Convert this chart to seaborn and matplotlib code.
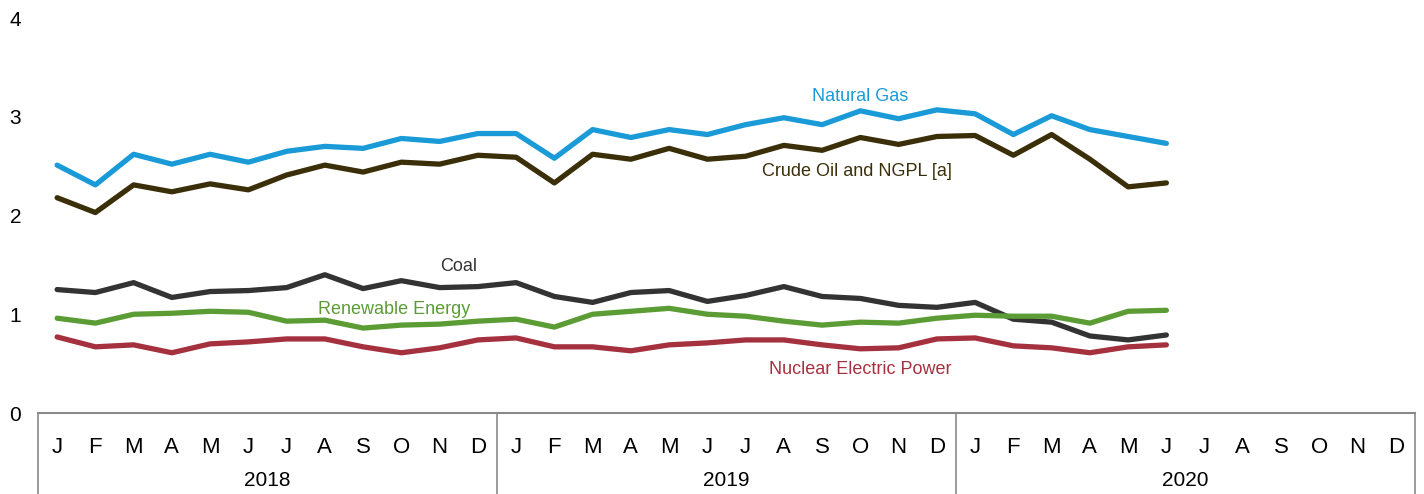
import pandas as pd
import matplotlib.pyplot as plt
import matplotlib.transforms as mtransforms
import seaborn as sns

# Datos mensuales (ene 2018 - jun 2020)
meses = ["J", "F", "M", "A", "M", "J", "J", "A", "S", "O", "N", "D"]
anios = ["2018", "2019", "2020"]

natural_gas = [2.51, 2.31, 2.62, 2.52, 2.62, 2.54, 2.65, 2.70, 2.68, 2.78, 2.75, 2.83,
               2.83, 2.58, 2.87, 2.79, 2.87, 2.82, 2.92, 2.99, 2.92, 3.06, 2.98, 3.07,
               3.03, 2.82, 3.01, 2.87, 2.80, 2.73]
crude_oil = [2.18, 2.03, 2.31, 2.24, 2.32, 2.26, 2.41, 2.51, 2.44, 2.54, 2.52, 2.61,
             2.59, 2.33, 2.62, 2.57, 2.68, 2.57, 2.60, 2.71, 2.66, 2.79, 2.72, 2.80,
             2.81, 2.61, 2.82, 2.57, 2.29, 2.33]
coal = [1.25, 1.22, 1.32, 1.17, 1.23, 1.24, 1.27, 1.40, 1.26, 1.34, 1.27, 1.28,
        1.32, 1.18, 1.12, 1.22, 1.24, 1.13, 1.19, 1.28, 1.18, 1.16, 1.09, 1.07,
        1.12, 0.95, 0.92, 0.78, 0.74, 0.79]
renewable = [0.96, 0.91, 1.00, 1.01, 1.03, 1.02, 0.93, 0.94, 0.86, 0.89, 0.90, 0.93,
             0.95, 0.87, 1.00, 1.03, 1.06, 1.00, 0.98, 0.93, 0.89, 0.92, 0.91, 0.96,
             0.99, 0.98, 0.98, 0.91, 1.03, 1.04]
nuclear = [0.77, 0.67, 0.69, 0.61, 0.70, 0.72, 0.75, 0.75, 0.67, 0.61, 0.66, 0.74,
           0.76, 0.67, 0.67, 0.63, 0.69, 0.71, 0.74, 0.74, 0.69, 0.65, 0.66, 0.75,
           0.76, 0.68, 0.66, 0.61, 0.67, 0.69]

series = {
    "Natural Gas": natural_gas,
    "Crude Oil and NGPL [a]": crude_oil,
    "Coal": coal,
    "Renewable Energy": renewable,
    "Nuclear Electric Power": nuclear,
}
colores = {
    "Natural Gas": "#1a9bd7",
    "Crude Oil and NGPL [a]": "#3b2f0a",
    "Coal": "#333333",
    "Renewable Energy": "#5c9c35",
    "Nuclear Electric Power": "#a5313f",
}
# posicion de etiquetas (mes, valor)
etiquetas = {
    "Natural Gas": (21.0, 3.21),
    "Crude Oil and NGPL [a]": (20.9, 2.45),
    "Coal": (10.5, 1.48),
    "Renewable Energy": (8.8, 1.05),
    "Nuclear Electric Power": (21.0, 0.44),
}

df = pd.DataFrame(
    [(i, nombre, v) for nombre, vals in series.items() for i, v in enumerate(vals)],
    columns=["mes", "serie", "valor"],
)

sns.set_style("white")
plt.rcParams["font.family"] = ["Liberation Sans", "DejaVu Sans"]

fig = plt.figure(figsize=(14.24, 4.94), dpi=100)
ax = fig.add_axes([38 / 1424, 81 / 494, 1377 / 1424, 395 / 494])

sns.lineplot(data=df, x="mes", y="valor", hue="serie", palette=colores,
             linewidth=3.8, legend=False, ax=ax)

for nombre, (x, y) in etiquetas.items():
    ax.text(x, y, nombre, color=colores[nombre], fontsize=13, ha="center", va="center")

ax.set_xlim(-0.5, 35.5)
ax.set_ylim(0, 4)
ax.set_xlabel("")
ax.set_ylabel("")

ax.set_yticks([0, 1, 2, 3, 4])
ax.set_yticklabels(["0", "1", "2", "3", "4"], fontsize=15, color="black")
ax.tick_params(axis="y", length=0, pad=12)

ax.set_xticks(range(36))
ax.set_xticklabels(meses * 3, fontsize=16, color="black")
ax.tick_params(axis="x", direction="in", length=8, width=1.2, color="#8a8a8a", pad=17)

for s in ["top", "right", "left"]:
    ax.spines[s].set_visible(False)
ax.spines["bottom"].set_color("#8a8a8a")
ax.spines["bottom"].set_linewidth(1.5)

trans = mtransforms.blended_transform_factory(ax.transData, ax.transAxes)
for b in [-0.5, 11.5, 23.5, 35.5]:
    ax.plot([b, b], [0, -0.21], transform=trans, color="#8a8a8a", lw=1.2, clip_on=False)
for k, anio in enumerate(anios):
    ax.text(5.5 + 12 * k, -0.17, anio, transform=trans, fontsize=15, color="black",
            ha="center", va="center")

plt.savefig("out.png", dpi=100)
